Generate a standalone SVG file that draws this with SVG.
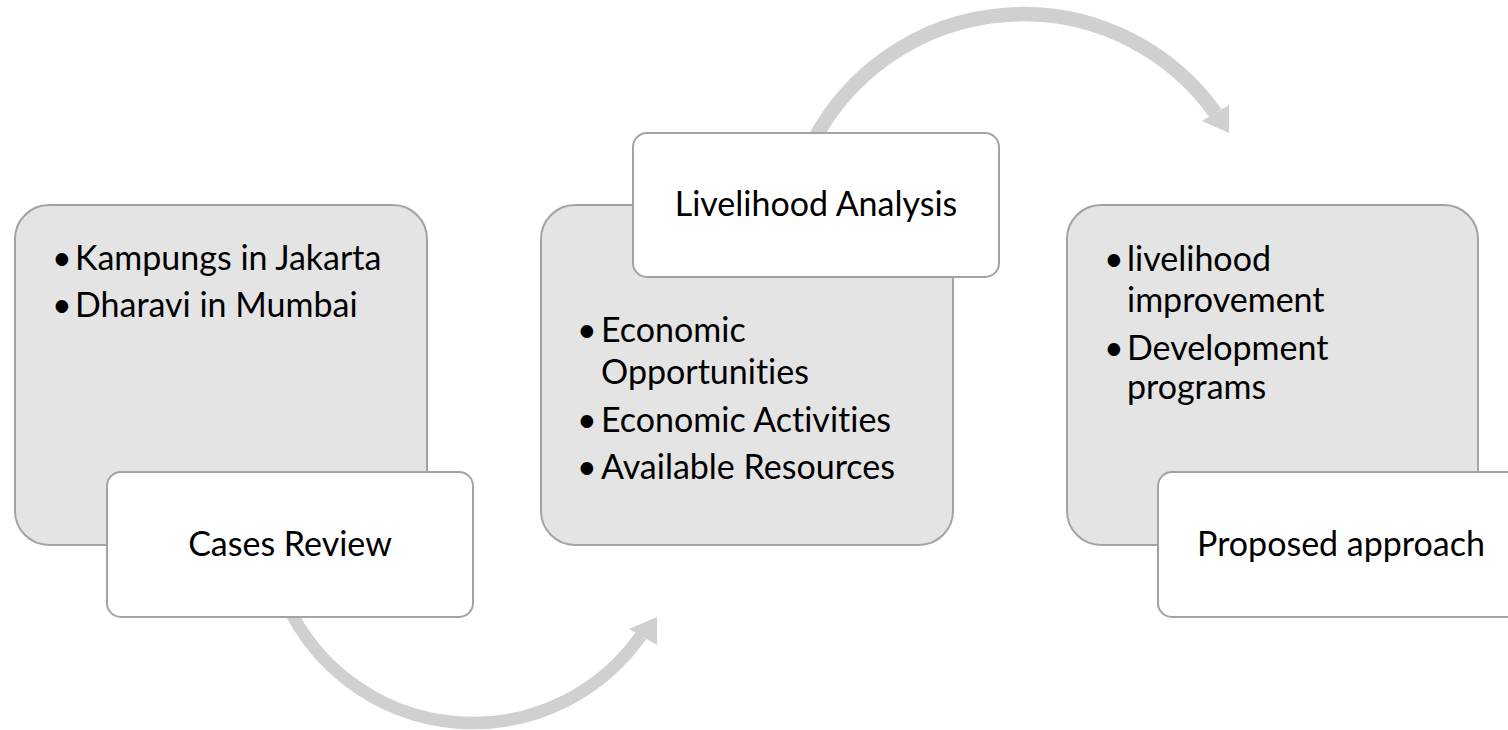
<svg xmlns="http://www.w3.org/2000/svg" width="1508" height="730" viewBox="0 0 1508 730">
<style>
.bg{fill:#e4e4e4;stroke:#a3a3a3;stroke-width:2}
.hd{fill:#ffffff;stroke:#a3a3a3;stroke-width:2}
.t{font-family:Lato,"Liberation Sans",sans-serif;font-size:34px;fill:#000;font-variant-ligatures:none}
.c{text-anchor:middle}
.arc{fill:none;stroke:#d0d0d0}
.ah{fill:#d0d0d0}
</style>
<rect width="1508" height="730" fill="#ffffff"/>
<g id="connectors">
<path class="arc" stroke-width="12.5" d="M 287.2 604.6 A 205 205 0 0 0 640.9 635.6"/>
<polygon class="ah" points="629,629 657,617 657,645"/>
<path class="arc" stroke-width="14.5" d="M 814 140 A 236.5 236.5 0 0 1 1215.5 113.2"/>
<polygon class="ah" points="1229,105 1229,133 1202,121"/>
</g>
<g id="box1">
<rect class="bg" x="15" y="205" width="412" height="340" rx="34"/>
<text class="t" x="52" y="270">•</text><text class="t" x="75" y="270">Kampungs in Jakarta</text>
<text class="t" x="52" y="317">•</text><text class="t" x="75" y="317">Dharavi in Mumbai</text>
</g>
<g id="box2">
<rect class="bg" x="541" y="205" width="412" height="340" rx="34"/>
<text class="t" x="577" y="342">•</text><text class="t" x="601" y="342">Economic</text>
<text class="t" x="601" y="384">Opportunities</text>
<text class="t" x="577" y="432">•</text><text class="t" x="601" y="432">Economic Activities</text>
<text class="t" x="577" y="479">•</text><text class="t" x="601" y="479">Available Resources</text>
</g>
<g id="box3">
<rect class="bg" x="1067" y="205" width="411" height="340" rx="34"/>
<text class="t" x="1104" y="271">•</text><text class="t" x="1127" y="271">livelihood</text>
<text class="t" x="1127" y="312">improvement</text>
<text class="t" x="1104" y="360">•</text><text class="t" x="1127" y="360">Development</text>
<text class="t" x="1127" y="399">programs</text>
</g>
<g id="head1">
<rect class="hd" x="107" y="472" width="366" height="145" rx="14"/>
<text class="t c" x="290" y="556">Cases Review</text>
</g>
<g id="head2">
<rect class="hd" x="633" y="133" width="366" height="144" rx="14"/>
<text class="t c" x="816" y="216">Livelihood Analysis</text>
</g>
<g id="head3">
<rect class="hd" x="1158" y="472" width="366" height="145" rx="14"/>
<text class="t c" x="1341" y="556">Proposed approach</text>
</g>
</svg>
